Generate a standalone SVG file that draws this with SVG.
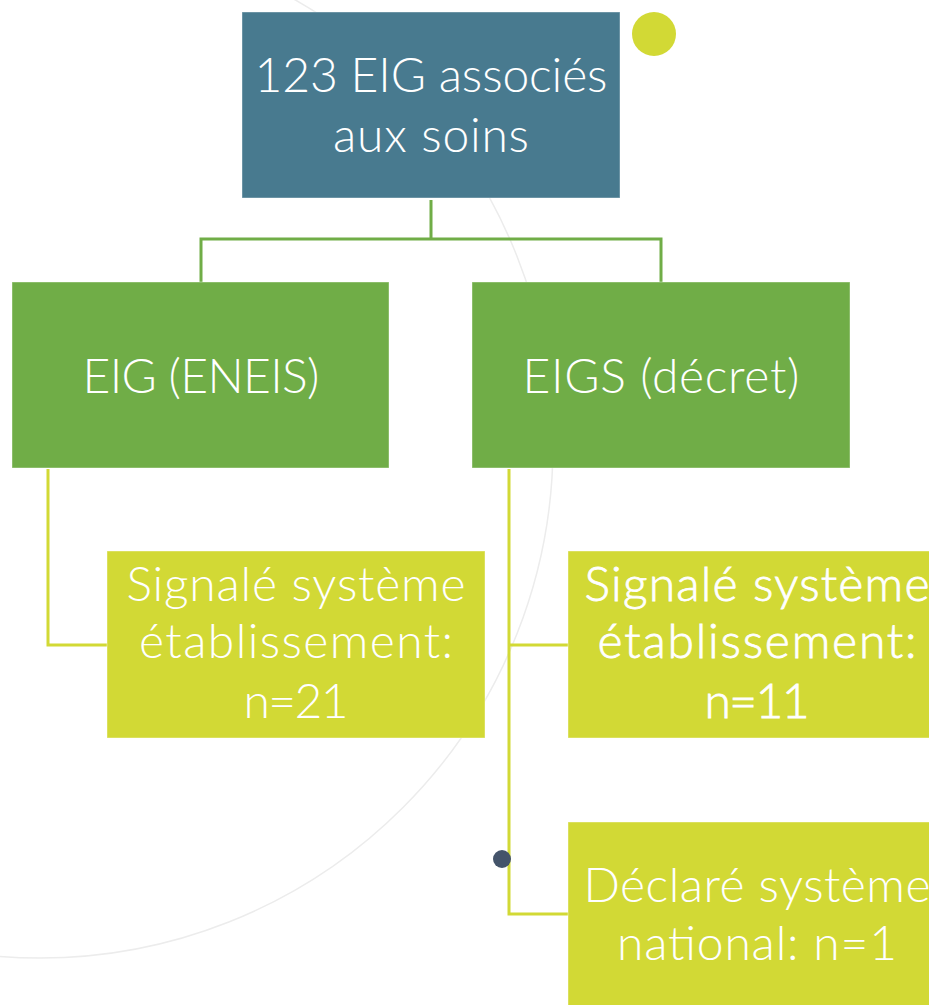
<svg xmlns="http://www.w3.org/2000/svg" width="929" height="1005" viewBox="0 0 929 1005">
<style>
.t{font-family:Lato,"Liberation Sans",sans-serif;font-weight:300;font-size:48px;fill:#fff;text-anchor:middle}
.r{stroke:#fff;stroke-width:0.8}
.lg{stroke:#70AD47;stroke-width:3;fill:none}
.ly{stroke:#D2D935;stroke-width:3;fill:none}
.box{stroke:#fff;stroke-opacity:0.4;stroke-width:1}
</style>
<rect width="929" height="1005" fill="#fff"/>
<circle cx="40" cy="445" r="513" fill="none" stroke="#ececec" stroke-width="1.5"/>
<g id="connectors">
<path class="lg" d="M431 200V239M201 282V239H661V282"/>
<path class="ly" d="M48 469V645H107"/>
<path class="ly" d="M509 469V914H568M509 645H568"/>
</g>
<g id="root">
<rect class="box" x="242" y="12" width="378" height="186" fill="#487A8F"/>
<text class="t" x="431" y="92" textLength="353" lengthAdjust="spacing">123 EIG associés</text>
<text class="t" x="431" y="152" textLength="196" lengthAdjust="spacing">aux soins</text>
</g>
<g id="deco-dot">
<circle cx="654" cy="34" r="22" fill="#D2D935"/>
</g>
<g id="eneis">
<rect class="box" x="12" y="282" width="377" height="186" fill="#70AD47"/>
<text class="t" x="201" y="393" textLength="237" lengthAdjust="spacing">EIG (ENEIS)</text>
</g>
<g id="eigs">
<rect class="box" x="472" y="282" width="378" height="186" fill="#70AD47"/>
<text class="t" x="661" y="393" textLength="277" lengthAdjust="spacing">EIGS (décret)</text>
</g>
<g id="eneis-etab">
<rect class="box" x="107" y="551" width="378" height="187" fill="#D2D935"/>
<text class="t" x="296" y="601" textLength="339" lengthAdjust="spacing">Signalé système</text>
<text class="t" x="296" y="658" textLength="314" lengthAdjust="spacing">établissement:</text>
<text class="t" x="296" y="718" textLength="105" lengthAdjust="spacing">n=21</text>
</g>
<g id="eigs-etab">
<rect class="box" x="568" y="551" width="378" height="187" fill="#D2D935"/>
<text class="t r" x="757" y="601" textLength="345" lengthAdjust="spacing">Signalé système</text>
<text class="t r" x="757" y="658" textLength="319" lengthAdjust="spacing">établissement:</text>
<text class="t r" x="757" y="718" textLength="105" lengthAdjust="spacing">n=11</text>
</g>
<g id="eigs-national">
<rect class="box" x="568" y="822" width="378" height="190" fill="#D2D935"/>
<text class="t" x="757" y="902" textLength="347" lengthAdjust="spacing">Déclaré système</text>
<text class="t" x="757" y="960" textLength="280" lengthAdjust="spacing">national: n=1</text>
</g>
<g id="dark-dot">
<circle cx="502" cy="859" r="9" fill="#44546A"/>
</g>
</svg>
